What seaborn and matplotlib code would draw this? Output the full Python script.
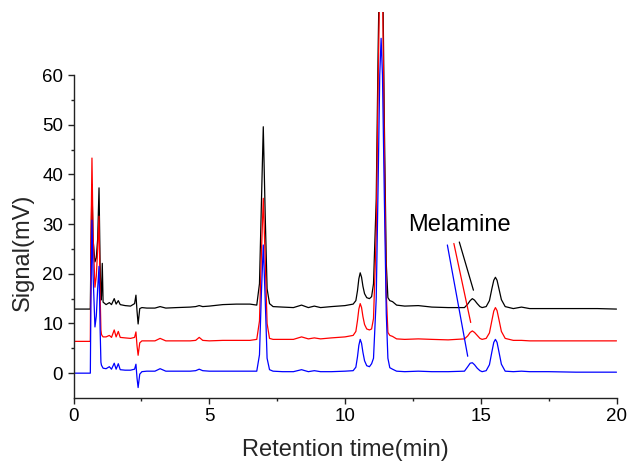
import matplotlib
matplotlib.use("Agg")
import matplotlib.pyplot as plt
import seaborn as sns
import pandas as pd
from matplotlib.ticker import MultipleLocator

# ---- data ----
time_min = [0.00, 0.62, 0.64, 0.68, 0.72, 0.79, 0.84, 0.89, 0.94, 0.98,
            1.01, 1.03, 1.06, 1.09, 1.20, 1.32, 1.40, 1.50, 1.57, 1.65,
            1.72, 1.90, 2.10, 2.25, 2.30, 2.34, 2.38, 2.44, 2.52, 2.70,
            3.00, 3.19, 3.40, 3.80, 4.30, 4.50, 4.63, 4.76, 5.00, 5.50,
            6.00, 6.50, 6.75, 6.85, 6.92, 6.99, 7.06, 7.13, 7.22, 7.35,
            7.70, 8.10, 8.40, 8.65, 8.87, 9.10, 9.50, 10.00,
            10.30, 10.40, 10.46, 10.51, 10.56, 10.61, 10.66, 10.72, 10.80, 10.90, 10.98,
            11.05, 11.15, 11.22, 11.28, 11.33, 11.38, 11.45, 11.52, 11.58, 11.65,
            11.75, 11.90, 12.20, 12.70, 13.20, 13.80,
            14.40, 14.52, 14.61, 14.69, 14.77, 14.87, 14.97, 15.05, 15.20,
            15.32, 15.41, 15.48, 15.54, 15.60, 15.67, 15.76, 15.90,
            16.20, 16.50, 16.80, 17.50, 18.50, 19.30, 20.00]

signal_black = [12.9, 12.9, 24.0, 38.0, 27.0, 22.4, 23.2, 27.0, 37.3, 22.0,
                14.7, 15.5, 22.1, 14.3, 13.8, 14.2, 13.8, 15.0, 13.9, 14.6,
                13.8, 13.6, 13.5, 14.0, 15.7, 12.5, 9.9, 13.0, 13.2, 13.1,
                13.1, 13.4, 13.1, 13.2, 13.3, 13.4, 13.6, 13.4, 13.5, 13.8,
                13.9, 13.9, 13.7, 18.0, 34.0, 49.6, 32.0, 17.0, 14.0, 13.4,
                13.3, 13.2, 13.7, 13.2, 13.5, 13.2, 13.4, 13.6,
                13.9, 14.6, 16.6, 19.0, 20.2, 19.3, 17.5, 16.0, 15.2, 15.0, 15.4,
                18.0, 35.0, 65.0, 86.0, 92.0, 86.0, 50.0, 22.0, 15.2, 14.6,
                14.4, 13.7, 13.5, 13.6, 13.3, 13.2,
                13.2, 13.9, 14.6, 15.0, 14.7, 14.0, 13.4, 13.2, 13.4,
                14.6, 17.0, 18.7, 19.3, 18.7, 17.0, 14.8, 13.4,
                13.0, 13.3, 13.0, 13.0, 13.0, 13.0, 12.9]

signal_red = [6.4, 6.4, 25.0, 43.3, 28.0, 17.3, 19.5, 25.0, 31.6, 16.0,
              8.7, 7.8, 7.5, 7.3, 7.3, 7.6, 7.2, 8.7, 7.3, 8.4,
              7.2, 7.1, 7.0, 7.2, 8.3, 5.5, 3.6, 6.1, 6.5, 6.5,
              6.5, 7.0, 6.5, 6.5, 6.5, 6.6, 7.2, 6.6, 6.5, 6.6,
              6.6, 6.6, 6.8, 10.5, 24.0, 35.2, 23.0, 10.0, 7.0, 6.8,
              6.8, 6.8, 7.3, 6.9, 7.1, 6.9, 7.1, 7.3,
              7.6, 8.4, 10.6, 12.9, 14.0, 13.2, 11.4, 9.8, 8.9, 8.7, 8.9,
              11.0, 28.0, 58.0, 79.0, 86.0, 79.0, 44.0, 16.0, 8.2, 7.6,
              7.4, 6.9, 6.8, 6.9, 6.8, 6.7,
              6.9, 7.5, 8.2, 8.5, 8.2, 7.6, 7.0, 6.8, 7.0,
              8.1, 10.6, 12.5, 13.2, 12.6, 10.8, 8.4, 7.0,
              6.6, 6.6, 6.5, 6.5, 6.5, 6.5, 6.5]

signal_blue = [0.0, 0.0, 14.0, 30.8, 20.0, 9.3, 11.5, 17.0, 21.5, 9.0,
               2.2, 1.6, 1.3, 1.0, 0.9, 1.3, 0.8, 2.0, 0.8, 1.9,
               0.7, 0.6, 0.6, 0.8, 1.8, -1.0, -2.9, -0.2, 0.3, 0.4,
               0.4, 0.9, 0.4, 0.4, 0.4, 0.5, 0.8, 0.5, 0.4, 0.4,
               0.4, 0.4, 0.4, 3.7, 16.0, 25.8, 15.0, 3.0, 0.7, 0.4,
               0.3, 0.3, 0.7, 0.3, 0.5, 0.3, 0.3, 0.4,
               0.5, 1.2, 3.3, 5.6, 6.8, 6.0, 4.2, 2.5, 1.5, 1.3, 1.9,
               3.0, 15.0, 38.0, 60.0, 67.4, 60.0, 35.0, 12.0, 3.0, 1.1,
               0.8, 0.4, 0.3, 0.4, 0.3, 0.3,
               0.4, 1.3, 2.0, 2.1, 1.7, 1.0, 0.5, 0.3, 0.5,
               1.7, 4.3, 6.2, 6.8, 6.2, 4.3, 1.8, 0.4,
               0.3, 0.4, 0.3, 0.3, 0.2, 0.2, 0.2]

trace_names = ["black", "red", "blue"]
trace_colors = ["#000000", "#ff0000", "#0000ff"]

# melamine pointer lines (start -> end, data coords), one per trace
pointer_x = [[14.21, 14.73], [14.01, 14.63], [13.77, 14.52]]
pointer_y = [[26.4, 16.7], [26.1, 10.2], [25.8, 3.4]]
annotation_text = "Melamine"

x_ticks = [0, 5, 10, 15, 20]
y_ticks = [0, 10, 20, 30, 40, 50, 60]

# ---- build table ----
frames = []
for name, vals in zip(trace_names, [signal_black, signal_red, signal_blue]):
    assert len(vals) == len(time_min)
    frames.append(pd.DataFrame({"time": time_min, "signal": vals, "trace": name}))
df = pd.concat(frames, ignore_index=True)

sns.set_theme(style="ticks")
plt.rcParams["font.family"] = ["Liberation Sans", "DejaVu Sans"]

fig = plt.figure(figsize=(6.3, 4.65), dpi=100)
ax = fig.add_axes([73.5 / 630, (465 - 398) / 465, 543 / 630, 386 / 465])

for name, col in zip(trace_names, trace_colors):
    sns.lineplot(data=df[df["trace"] == name], x="time", y="signal",
                 color=col, lw=0.9, ax=ax, sort=False, estimator=None,
                 legend=False)

for (px, py), col in zip(zip(pointer_x, pointer_y), trace_colors):
    ax.plot(px, py, color=col, lw=0.9)

ax.text(12.33, 28.65, annotation_text, fontsize=17, ha="left", va="baseline",
        color="black")

ax.set_xlim(0, 20)
ax.set_ylim(-5, 72.7)
ax.set_xticks(x_ticks)
ax.set_yticks(y_ticks)
ax.xaxis.set_minor_locator(MultipleLocator(2.5))
ax.set_yticks([5, 15, 25, 35, 45, 55], minor=True)

for s in ["top", "right"]:
    ax.spines[s].set_visible(False)
ax.spines["left"].set_bounds(-5, 60)
for s in ["left", "bottom"]:
    ax.spines[s].set_color("#222222")
    ax.spines[s].set_linewidth(1.0)

ax.tick_params(axis="both", which="major", direction="out", length=4,
               width=1.0, color="#222222", labelsize=13.5, pad=3.5,
               labelcolor="black")
ax.tick_params(axis="both", which="minor", direction="out", length=2.3,
               width=1.0, color="#222222")

ax.set_xlabel("Retention time(min)", fontsize=17)
ax.set_ylabel("Signal(mV)", fontsize=17)
ax.xaxis.set_label_coords(0.5, -0.105)
ax.yaxis.set_label_coords(-0.0727, 0.378)

fig.savefig("out.png", dpi=100)
